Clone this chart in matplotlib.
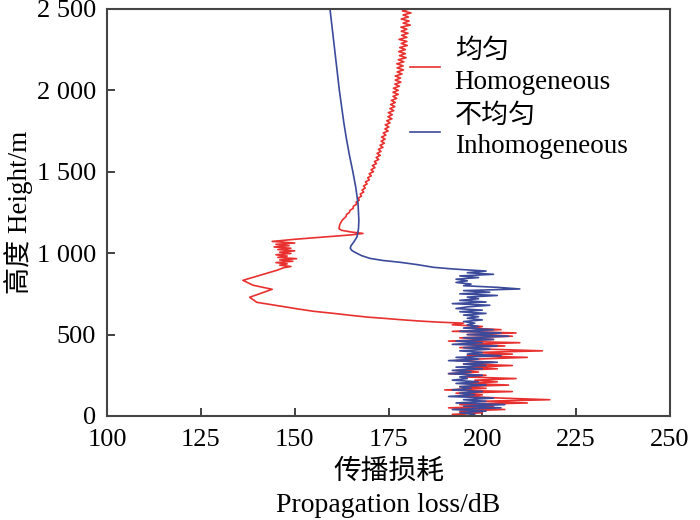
import numpy as np
import matplotlib
matplotlib.use("Agg")
import matplotlib.pyplot as plt

plt.rcParams['font.family'] = ['Liberation Serif', 'Noto Sans CJK SC', 'DejaVu Serif']
plt.rcParams['font.size'] = 19

# homogeneous (red), upper hairy part: height (m) / loss (dB)
homo_top_h = [2500, 2487.5, 2475, 2462.5, 2450, 2437.5, 2425, 2412.5, 2400, 2387.5, 2375, 2362.5,
              2350, 2337.5, 2325, 2312.5, 2300, 2287.5, 2275, 2262.5, 2250, 2237.5, 2225, 2212.5,
              2200, 2187.5, 2175, 2162.5, 2150, 2137.5, 2125, 2112.5, 2100, 2087.5, 2075, 2062.5,
              2050, 2037.5, 2025, 2012.5, 2000, 1987.5, 1975, 1962.5, 1950, 1937.5, 1925, 1912.5,
              1900, 1887.5, 1875, 1862.5, 1850, 1837.5, 1825, 1812.5, 1800, 1787.5, 1775, 1762.5,
              1750, 1737.5, 1725, 1712.5, 1700, 1687.5, 1675, 1662.5, 1650, 1637.5, 1625, 1612.5,
              1600, 1587.5, 1575, 1562.5, 1550, 1537.5, 1525, 1512.5, 1500, 1487.5, 1475, 1462.5,
              1450, 1437.5, 1425, 1412.5, 1400, 1387.5, 1375, 1362.5, 1350, 1337.5, 1325, 1312.5,
              1300, 1287.5, 1275, 1262.5, 1250, 1237.5, 1225, 1212.5, 1200]
homo_top_loss = [180.6, 178.7, 181.0, 178.9, 180.3, 178.4, 180.5, 178.9, 180.8, 178.3, 179.9, 178.4,
                 180.2, 178.5, 179.9, 177.8, 179.9, 178.4, 180.0, 178.0, 179.5, 177.7, 179.5, 177.9,
                 179.7, 177.6, 179.1, 177.2, 178.9, 177.3, 179.0, 177.3, 178.6, 176.8, 178.2, 176.8,
                 178.3, 176.7, 177.9, 176.3, 177.6, 176.2, 177.6, 176.2, 177.2, 175.75, 176.8, 175.55,
                 176.7, 175.4, 176.4, 174.95, 176.0, 174.85, 175.9, 174.55, 175.4, 174.15, 175.1, 174.05,
                 174.9, 173.6, 174.3, 173.15, 174.1, 173.05, 173.9, 172.75, 173.5, 172.3, 173.0, 171.95,
                 172.8, 171.7, 172.4, 171.25, 171.8, 170.7, 171.4, 170.35, 171.0, 169.85, 170.4, 169.45,
                 169.9, 168.85, 169.3, 168.35, 168.8, 167.95, 168.4, 167.45, 167.8, 166.9, 167.2, 166.35,
                 166.5, 165.6, 165.6, 164.7, 164.6, 163.8, 163.7, 163.1, 162.6]

# homogeneous (red), lower part
homo_low_h = [1175, 1150, 1140, 1130, 1121, 1112, 1097, 1085,
              1072, 1062, 1054, 1046, 1038, 1030, 1022, 1014, 1006, 998, 990, 982, 974, 966, 958,
              950, 942, 934, 926, 918, 910, 895, 870, 833, 803, 778, 729, 698, 668, 655, 643, 631,
              618, 607, 600, 590, 582, 576,
              570, 560, 550, 540, 530, 520, 510, 500, 490, 480, 470, 460, 450, 440, 430, 420,
              410, 400, 390, 380, 370, 360, 350, 340, 330, 320, 310, 300, 290, 280, 270, 260, 250,
              240, 230, 220, 210, 200, 190, 180, 170, 160, 150, 140, 130, 120, 110, 100, 90, 80, 70,
              60, 50, 40, 30, 20, 10, 0]
homo_low_loss = [162.0, 161.8, 162.5, 165.0, 168.2, 165.0, 156.8, 150.0,
                 144.0, 150.0, 145.0, 148.5, 144.5, 149.0, 145.5, 150.0, 146.0, 149.0, 145.0, 148.0,
                 145.5, 150.5, 146.0, 149.5, 145.0, 148.0, 146.0, 149.0, 147.0, 145.3, 141.6, 136.2,
                 138.9, 144.0, 138.0, 139.9, 148.0, 151.5, 155.0, 160.0, 165.0, 169.5, 173.6, 179.0,
                 184.0, 188.7,
                 195, 192, 200, 197, 205, 192, 209, 196, 208, 194, 203, 191, 210, 196, 206, 194,
                 202, 216, 198, 208, 196, 212, 199, 193, 203, 195, 208, 197, 204, 193, 199, 191, 201,
                 195, 209, 198, 204, 196, 207, 194, 201, 190, 208, 193, 200, 196, 205, 218, 199, 212,
                 194, 203, 191, 206, 194, 200, 192, 197]

# inhomogeneous (blue)
inhomo_h = [2500, 2400, 2300, 2200, 2100, 2000, 1900, 1800, 1700, 1600, 1500, 1400, 1300, 1200,
            1150, 1100, 1070, 1045, 1030, 1015, 1000, 985, 968, 955, 944, 930, 913, 905,
            900, 890, 880, 870, 860, 850, 840, 830, 820, 810, 800, 790, 780, 770, 760, 750, 740,
            730, 720, 710, 700, 690, 680, 670, 660, 650, 640, 630, 620, 610, 600, 590, 580, 570,
            560, 550, 540, 530, 520, 510, 500, 490, 480, 470, 460, 450, 440, 430, 420, 410, 400,
            390, 380, 370, 360, 350, 340, 330, 320, 310, 300, 290, 280, 270, 260, 250, 240, 230,
            220, 210, 200, 190, 180, 170, 160, 150, 140, 130, 120, 110, 100, 90, 80, 70, 60, 50,
            40, 30, 20, 10, 0]
inhomo_loss = [159.4, 159.9, 160.4, 160.9, 161.4, 161.9, 162.5, 163.1, 163.8, 164.6, 165.5, 166.3,
               166.9, 167.1, 167.0, 166.6, 165.8, 165.0, 164.8, 165.3, 166.5, 167.8, 170.0, 173.5,
               178.0, 182.5, 187.0, 191.0,
               194, 201, 196, 203, 194, 199, 193, 196, 193, 197, 195, 204, 210, 195, 202, 194, 204,
               196, 199, 194, 201, 192, 202, 196, 193, 200, 194, 201, 195, 199, 196, 200, 195, 198,
               196, 199, 195, 203, 194, 205, 196, 207, 195, 203, 193, 200, 192, 204, 195, 202, 194,
               200, 196, 205, 193, 199, 191, 204, 195, 201, 193, 200, 192, 197, 191, 200, 194, 196,
               192, 199, 193, 201, 194, 197, 192, 200, 194, 198, 191, 203, 195, 201, 193, 206, 195,
               205, 192, 201, 194, 198, 196]

homo_h = homo_top_h + homo_low_h
homo_loss = homo_top_loss + homo_low_loss

xticks = [100, 125, 150, 175, 200, 225, 250]
yticks = [0, 500, 1000, 1500, 2000, 2500]
ytick_labels = ["0", "500", "1 000", "1 500", "2 000", "2 500"]

fig = plt.figure(figsize=(7, 5.2), dpi=100)
ax = fig.add_axes([0.153, 0.2, 0.804, 0.783])

ax.plot(homo_loss, homo_h, color="#e8312f", lw=1.2, label="均匀\nHomogeneous")
ax.plot(inhomo_loss, inhomo_h, color="#3b4a9a", lw=1.2, label="不均匀\nInhomogeneous")

ax.set_xlim(100, 250)
ax.set_ylim(0, 2500)
ax.set_xticks(xticks)
ax.set_yticks(yticks)
ax.set_yticklabels(ytick_labels)
ax.tick_params(direction="in", length=6, width=1.3, colors="#333333", labelcolor="black",
               labelsize=19)
ax.tick_params(axis="x", pad=9)
ax.tick_params(axis="y", pad=8)
for sp in ax.spines.values():
    sp.set_color("#444444")
    sp.set_linewidth(1.5)

ax.set_ylabel("高度 Height/m", fontsize=19.5, labelpad=3)
ax.set_xlabel("传播损耗\nPropagation loss/dB", fontsize=20, linespacing=1.45, labelpad=6)

leg = ax.legend(loc="upper left", bbox_to_anchor=(0.538, 0.925), frameon=False,
                fontsize=19.5, handlelength=1.1, handletextpad=0.55, labelspacing=0.32,
                borderaxespad=0, borderpad=0)
for t in leg.get_texts():
    t.set_linespacing(1.3)

fig.savefig("out.png", dpi=100)
